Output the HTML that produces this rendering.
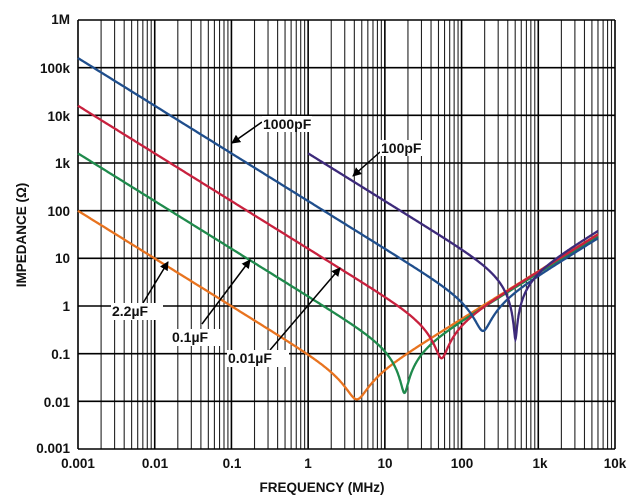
<!DOCTYPE html>
<html><head><meta charset="utf-8"><style>
html,body{margin:0;padding:0;background:#fff;width:630px;height:499px;overflow:hidden}
text{font-family:"Liberation Sans",Arial,sans-serif;font-weight:bold;fill:#111}
</style></head><body>
<svg id="s" width="630" height="499" xmlns="http://www.w3.org/2000/svg">
<defs><marker id="ah" markerWidth="9" markerHeight="9" refX="8" refY="4.5" orient="auto" markerUnits="userSpaceOnUse"><path d="M0,0 L9,4.5 L0,9 z" fill="#000"/></marker></defs>
<g id="grid"></g>
<g id="curves" fill="none" stroke-width="2.3"></g>
<g font-size="13.5">
<text x="70" y="24" text-anchor="end">1M</text>
<text x="70" y="73" text-anchor="end">100k</text>
<text x="70" y="121" text-anchor="end">10k</text>
<text x="70" y="168" text-anchor="end">1k</text>
<text x="70" y="216" text-anchor="end">100</text>
<text x="70" y="263" text-anchor="end">10</text>
<text x="70" y="311" text-anchor="end">1</text>
<text x="70" y="359" text-anchor="end">0.1</text>
<text x="70" y="407" text-anchor="end">0.01</text>
<text x="70" y="453" text-anchor="end">0.001</text>
<text x="78" y="468" text-anchor="middle">0.001</text>
<text x="155" y="468" text-anchor="middle">0.01</text>
<text x="232" y="468" text-anchor="middle">0.1</text>
<text x="308" y="468" text-anchor="middle">1</text>
<text x="385" y="468" text-anchor="middle">10</text>
<text x="462" y="468" text-anchor="middle">100</text>
<text x="540" y="468" text-anchor="middle">1k</text>
<text x="615" y="468" text-anchor="middle">10k</text>
<text x="322" y="492" text-anchor="middle">FREQUENCY (MHz)</text>
<text transform="translate(26,235) rotate(-90)" text-anchor="middle">IMPEDANCE (Ω)</text>
</g>
<g stroke="#000" stroke-width="1.5" marker-end="url(#ah)">
<line x1="262" y1="122" x2="232" y2="143"/>
<line x1="380" y1="152" x2="353" y2="176"/>
<line x1="143" y1="303" x2="168" y2="262"/>
<line x1="202" y1="324" x2="250" y2="260"/>
<line x1="270" y1="350" x2="340" y2="268"/>
</g>
<g font-size="14">
<rect x="262" y="116" width="50" height="16" fill="#fff"/><text x="263" y="129">1000pF</text>
<rect x="380" y="140" width="42" height="16" fill="#fff"/><text x="381" y="153">100pF</text>
<rect x="111" y="303" width="52" height="17" fill="#fff"/><text x="112" y="316">2.2µF</text>
<rect x="171" y="329" width="52" height="17" fill="#fff"/><text x="172" y="342">0.1µF</text>
<rect x="227" y="350" width="62" height="17" fill="#fff"/><text x="228" y="363">0.01µF</text>
</g>
</svg>
<script>
var L=78,R=615,T=20,B=449,dx=(R-L)/7,dy=(B-T)/9;
function X(f){return L+dx*(Math.log10(f)+3);}
function Y(z){return T+dy*(6-Math.log10(z));}
var g=document.getElementById('grid'),h='';
for(var d=-3;d<4;d++){for(var k=1;k<10;k++){var x=X(k*Math.pow(10,d));
h+='<line x1="'+x+'" y1="'+T+'" x2="'+x+'" y2="'+B+'" stroke="'+(k==1?'#000':'#222')+'" stroke-width="'+(k==1?1.6:1.1)+'"/>';}}
for(var i=0;i<=9;i++){var y=T+dy*i;h+='<line x1="'+L+'" y1="'+y+'" x2="'+R+'" y2="'+y+'" stroke="#000" stroke-width="1.6"/>';}
h+='<line x1="'+R+'" y1="'+T+'" x2="'+R+'" y2="'+B+'" stroke="#000" stroke-width="1.6"/>';
g.innerHTML=h;
var cs=[
{C:1.6e-6,L:8.5e-10,E:0.011,c:'#e8731f',f0:0.001},
{C:1e-7,L:7.8e-10,E:0.015,c:'#1f8a4c',f0:0.001},
{C:1e-8,L:8.4e-10,E:0.08,c:'#c8213e',f0:0.001},
{C:1e-9,L:7e-10,E:0.3,c:'#1f4e8c',f0:0.001},
{C:1e-10,L:1e-9,E:0.2,c:'#3d2a7a',f0:1}];
var cg=document.getElementById('curves'),s='';
cs.forEach(function(c){var p='';var a=Math.log10(c.f0),b=Math.log10(6000);
for(var i=0;i<=800;i++){var lf=a+(b-a)*i/800,f=Math.pow(10,lf)*1e6,w=2*Math.PI*f;
var xr=1/(w*c.C)-w*c.L,z=Math.sqrt(c.E*c.E+xr*xr);
p+=(i?'L':'M')+X(f/1e6).toFixed(1)+','+Y(z).toFixed(1);}
s+='<path d="'+p+'" stroke="'+c.c+'"/>';});
cg.innerHTML=s;
</script>
</body></html>
